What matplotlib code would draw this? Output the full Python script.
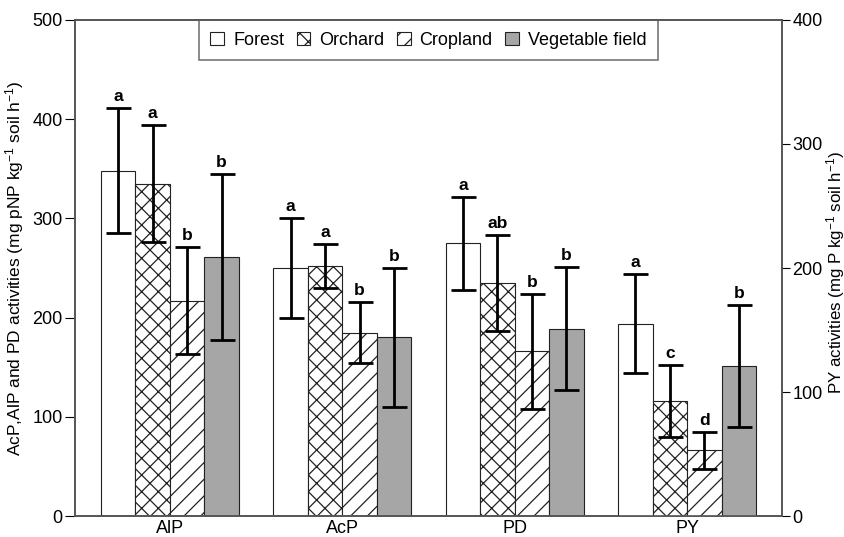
import numpy as np
import matplotlib
matplotlib.use('Agg')
import matplotlib.pyplot as plt

plt.rcParams['font.family'] = ['Liberation Sans', 'DejaVu Sans']
plt.rcParams['mathtext.fontset'] = 'custom'
plt.rcParams['mathtext.rm'] = 'Liberation Sans'
plt.rcParams['mathtext.it'] = 'Liberation Sans:italic'
plt.rcParams['mathtext.bf'] = 'Liberation Sans:bold'
plt.rcParams['hatch.linewidth'] = 0.9

# enzyme groups and land uses
groups = ['AlP', 'AcP', 'PD', 'PY']
series = ['Forest', 'Orchard', 'Cropland', 'Vegetable field']

# AlP, AcP, PD on left axis (mg pNP kg-1 soil h-1), PY on right axis (mg P kg-1 soil h-1)
forest = [348, 250, 275, 155]
orchard = [335, 252, 235, 93]
cropland = [217, 185, 166, 53]
vegetable = [261, 180, 189, 121]

forest_err = [63, 50, 47, 40]
orchard_err = [59, 22, 48, 29]
cropland_err = [54, 31, 58, 15]
vegetable_err = [84, 70, 62, 49]

forest_sig = ['a', 'a', 'a', 'a']
orchard_sig = ['a', 'a', 'ab', 'c']
cropland_sig = ['b', 'b', 'b', 'd']
vegetable_sig = ['b', 'b', 'b', 'b']

values = [forest, orchard, cropland, vegetable]
errors = [forest_err, orchard_err, cropland_err, vegetable_err]
letters = [forest_sig, orchard_sig, cropland_sig, vegetable_sig]
fills = ['white', 'white', 'white', '#a6a6a6']
hatches = ['', 'xx', '//', '']

fig = plt.figure(figsize=(8.45, 5.37), dpi=100)
ax = fig.add_axes([0.0888, 0.039, 0.8366, 0.9238])
ax2 = ax.twinx()

centers = np.arange(len(groups)) * 5.0
offsets = [-1.5, -0.5, 0.5, 1.5]
handles = []
for k in range(4):
    for i in range(len(groups)):
        target = ax2 if groups[i] == 'PY' else ax
        x = centers[i] + offsets[k]
        b = target.bar(x, values[k][i], width=1.0, color=fills[k], hatch=hatches[k],
                       edgecolor='#222222', linewidth=0.8, zorder=2)
        target.errorbar(x, values[k][i], yerr=errors[k][i], fmt='none', ecolor='black',
                        elinewidth=2, capsize=9, capthick=2, zorder=3)
        target.text(x, values[k][i] + errors[k][i] + 4 * (0.8 if target is ax2 else 1),
                    letters[k][i], ha='center', va='bottom', fontsize=12.5, fontweight='bold')
        if i == 0:
            handles.append(b)

ax.set_xlim(-2.75, 17.75)
ax.set_ylim(0, 500)
ax2.set_ylim(0, 400)
ax.set_yticks([0, 100, 200, 300, 400, 500])
ax2.set_yticks([0, 100, 200, 300, 400])
ax.set_xticks(centers)
ax.set_xticklabels(groups)
ax.tick_params(axis='x', length=0, labelsize=13, pad=3)
ax.tick_params(axis='y', direction='out', length=7, labelsize=13, pad=2)
ax2.tick_params(axis='y', direction='out', length=6, labelsize=13, pad=1.5)

for a in (ax, ax2):
    for s in a.spines.values():
        s.set_color('#555555')
        s.set_linewidth(1.2)

ax.set_ylabel('AcP,AlP and PD activities (mg pNP kg$^{-1}$ soil h$^{-1}$)', fontsize=12.5)
ax.yaxis.set_label_coords(-0.07, 0.5)
ax2.set_ylabel('PY activities (mg P kg$^{-1}$ soil h$^{-1}$)', fontsize=12.2, rotation=90)
ax2.yaxis.set_label_coords(1.059, 0.49)

leg = ax.legend(handles, series, loc='upper center', bbox_to_anchor=(0.5, 1.0), ncol=4,
                fontsize=13, frameon=True, fancybox=False, edgecolor='#555555',
                handlelength=0.75, handleheight=0.75, handletextpad=0.5, columnspacing=0.7,
                borderpad=0.65, borderaxespad=0)
leg.get_frame().set_linewidth(1.2)

fig.savefig('out.png', dpi=100)
